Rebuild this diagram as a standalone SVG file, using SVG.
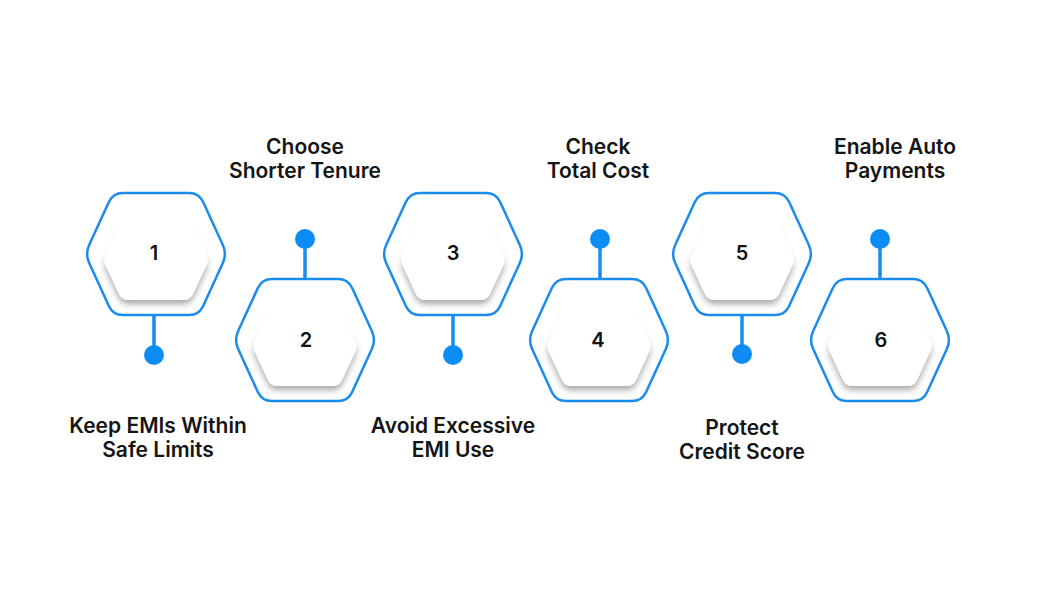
<svg xmlns="http://www.w3.org/2000/svg" width="1050" height="600" viewBox="0 0 1050 600">
<style>
.outer{fill:#fff;stroke:#1a8cec;stroke-width:2.5}
.inner{fill:#fff;filter:url(#sh)}
.veil{fill:url(#fade)}
.num{font-family:Inter,"Liberation Sans",sans-serif;font-size:20px;font-weight:600;fill:#111;text-anchor:middle;dominant-baseline:central}
.lbl{font-family:Inter,"Liberation Sans",sans-serif;font-size:21px;font-weight:600;fill:#151515;text-anchor:middle}
.stem{stroke:#1a8cec;stroke-width:3.5;fill:none}
.dot{fill:#0d8df4}
</style>
<defs>
<filter id="sh" x="-30%" y="-30%" width="160%" height="170%">
<feDropShadow dx="0" dy="4" stdDeviation="3" flood-color="#000" flood-opacity="0.35"/>
</filter>
<linearGradient id="fade" x1="0" y1="0" x2="0" y2="1">
<stop offset="0" stop-color="#fff" stop-opacity="0.95"/>
<stop offset="0.35" stop-color="#fff" stop-opacity="0.8"/>
<stop offset="0.62" stop-color="#fff" stop-opacity="0"/>
</linearGradient>
<path id="hexo" d="M-66.83,-9.09 L-47.17,-51.91 Q-43,-61 -33,-61 L33,-61 Q43,-61 47.17,-51.91 L66.83,-9.09 Q71,0 66.83,9.09 L47.17,51.91 Q43,61 33,61 L-33,61 Q-43,61 -47.17,51.91 L-66.83,9.09 Q-71,0 -66.83,-9.09 Z"/>
<path id="hexi" d="M-50,0 L-37,-28 Q-34,-34 -27,-34 L27,-34 Q34,-34 37,-28 L50,0 Q53,6 50,12 L37,40 Q34,46 27,46 L-27,46 Q-34,46 -37,40 L-50,12 Q-53,6 -50,0 Z"/>
<path id="hexv" d="M-60,0 L-44,-38 Q-41,-45 -33,-45 L33,-45 Q41,-45 44,-38 L60,0 Q63,6 60,12 L44,50 Q41,57 33,57 L-33,57 Q-41,57 -44,50 L-60,12 Q-63,6 -60,0 Z"/>
</defs>
<rect width="1050" height="600" fill="#fff"/>
<g id="connectors">
<line class="stem" x1="154" y1="314" x2="154" y2="355"/><circle class="dot" cx="154" cy="355" r="10"/>
<line class="stem" x1="305" y1="279" x2="305" y2="239"/><circle class="dot" cx="305" cy="239" r="10"/>
<line class="stem" x1="453" y1="314" x2="453" y2="355"/><circle class="dot" cx="453" cy="355" r="10"/>
<line class="stem" x1="600" y1="279" x2="600" y2="239"/><circle class="dot" cx="600" cy="239" r="10"/>
<line class="stem" x1="742" y1="314" x2="742" y2="354"/><circle class="dot" cx="742" cy="354" r="10"/>
<line class="stem" x1="880" y1="279" x2="880" y2="239"/><circle class="dot" cx="880" cy="239" r="10"/>
</g>
<g id="node1"><g transform="translate(156,254)"><use href="#hexo" class="outer"/><use href="#hexi" class="inner"/><use href="#hexv" class="veil"/></g><text class="num" x="154" y="253">1</text>
<text class="lbl" x="158" y="433">Keep EMIs Within</text><text class="lbl" x="158" y="457">Safe Limits</text></g>
<g id="node2"><g transform="translate(305,340)"><use href="#hexo" class="outer"/><use href="#hexi" class="inner"/><use href="#hexv" class="veil"/></g><text class="num" x="306" y="340">2</text>
<text class="lbl" x="305" y="154">Choose</text><text class="lbl" x="305" y="178">Shorter Tenure</text></g>
<g id="node3"><g transform="translate(453,254)"><use href="#hexo" class="outer"/><use href="#hexi" class="inner"/><use href="#hexv" class="veil"/></g><text class="num" x="453" y="253">3</text>
<text class="lbl" x="453" y="433">Avoid Excessive</text><text class="lbl" x="453" y="457">EMI Use</text></g>
<g id="node4"><g transform="translate(599,340)"><use href="#hexo" class="outer"/><use href="#hexi" class="inner"/><use href="#hexv" class="veil"/></g><text class="num" x="598" y="340">4</text>
<text class="lbl" x="598" y="154">Check</text><text class="lbl" x="598" y="178">Total Cost</text></g>
<g id="node5"><g transform="translate(742,254)"><use href="#hexo" class="outer"/><use href="#hexi" class="inner"/><use href="#hexv" class="veil"/></g><text class="num" x="742" y="253">5</text>
<text class="lbl" x="742" y="435">Protect</text><text class="lbl" x="742" y="459">Credit Score</text></g>
<g id="node6"><g transform="translate(880,340)"><use href="#hexo" class="outer"/><use href="#hexi" class="inner"/><use href="#hexv" class="veil"/></g><text class="num" x="881" y="340">6</text>
<text class="lbl" x="895" y="154">Enable Auto</text><text class="lbl" x="895" y="178">Payments</text></g>
</svg>
